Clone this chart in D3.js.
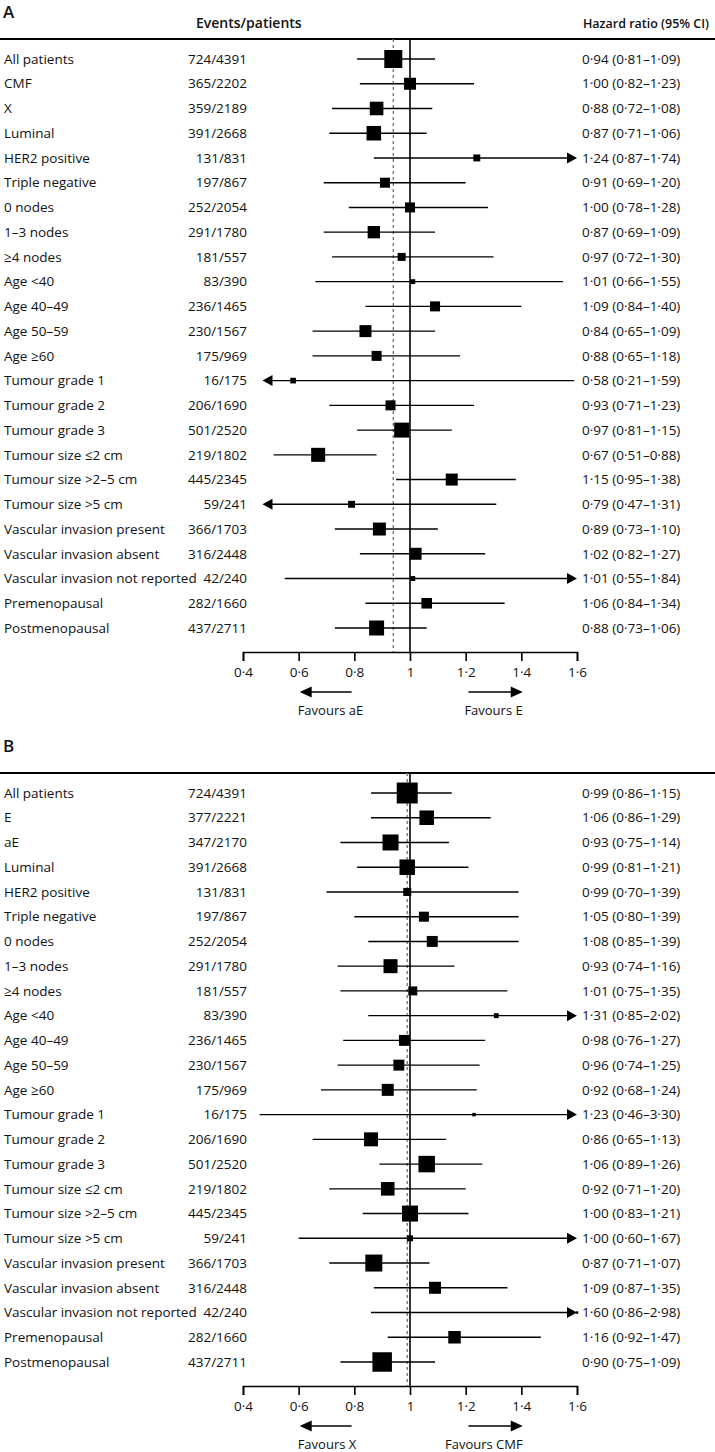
<!DOCTYPE html>
<html>
<head>
<meta charset="utf-8">
<script src="https://cdn.jsdelivr.net/npm/d3@7"></script>
<style>
  html, body { margin: 0; padding: 0; background: #fff; }
  svg { display: block; }
  text { font-family: "Open Sans", Lato, sans-serif; fill: #111; }
</style>
</head>
<body>
<svg id="chart" width="715" height="1452"></svg>
<script>
// ---------- DATA ----------
const categoriesA = ["All patients","CMF","X","Luminal","HER2 positive","Triple negative","0 nodes","1–3 nodes","≥4 nodes","Age <40","Age 40–49","Age 50–59","Age ≥60","Tumour grade 1","Tumour grade 2","Tumour grade 3","Tumour size ≤2 cm","Tumour size >2–5 cm","Tumour size >5 cm","Vascular invasion present","Vascular invasion absent","Vascular invasion not reported","Premenopausal","Postmenopausal"];
const eventsA = ["724/4391","365/2202","359/2189","391/2668","131/831","197/867","252/2054","291/1780","181/557","83/390","236/1465","230/1567","175/969","16/175","206/1690","501/2520","219/1802","445/2345","59/241","366/1703","316/2448","42/240","282/1660","437/2711"];
const hrA    = [0.94,1.00,0.88,0.87,1.24,0.91,1.00,0.87,0.97,1.01,1.09,0.84,0.88,0.58,0.93,0.97,0.67,1.15,0.79,0.89,1.02,1.01,1.06,0.88];
const lowerA = [0.81,0.82,0.72,0.71,0.87,0.69,0.78,0.69,0.72,0.66,0.84,0.65,0.65,0.21,0.71,0.81,0.51,0.95,0.47,0.73,0.82,0.55,0.84,0.73];
const upperA = [1.09,1.23,1.08,1.06,1.74,1.20,1.28,1.09,1.30,1.55,1.40,1.09,1.18,1.59,1.23,1.15,0.88,1.38,1.31,1.10,1.27,1.84,1.34,1.06];
const weightA = [81,36,46,53,12,25,25,38,16,6,25,36,25,8,25,56,49,36,12,42,36,6,28,56];
const arrowA = ["","","","","right","","","","","","","","","left","","","","","left","","","right","",""];
const overallA = 0.94;
const favoursA = ["Favours aE","Favours E"];

const categoriesB = ["All patients","E","aE","Luminal","HER2 positive","Triple negative","0 nodes","1–3 nodes","≥4 nodes","Age <40","Age 40–49","Age 50–59","Age ≥60","Tumour grade 1","Tumour grade 2","Tumour grade 3","Tumour size ≤2 cm","Tumour size >2–5 cm","Tumour size >5 cm","Vascular invasion present","Vascular invasion absent","Vascular invasion not reported","Premenopausal","Postmenopausal"];
const eventsB = ["724/4391","377/2221","347/2170","391/2668","131/831","197/867","252/2054","291/1780","181/557","83/390","236/1465","230/1567","175/969","16/175","206/1690","501/2520","219/1802","445/2345","59/241","366/1703","316/2448","42/240","282/1660","437/2711"];
const hrB    = [0.99,1.06,0.93,0.99,0.99,1.05,1.08,0.93,1.01,1.31,0.98,0.96,0.92,1.23,0.86,1.06,0.92,1.00,1.00,0.87,1.09,1.60,1.16,0.90];
const lowerB = [0.86,0.86,0.75,0.81,0.70,0.80,0.85,0.74,0.75,0.85,0.76,0.74,0.68,0.46,0.65,0.89,0.71,0.83,0.60,0.71,0.87,0.86,0.92,0.75];
const upperB = [1.15,1.29,1.14,1.21,1.39,1.39,1.39,1.16,1.35,2.02,1.27,1.25,1.24,3.30,1.13,1.26,1.20,1.21,1.67,1.07,1.35,2.98,1.47,1.09];
const weightB = [110,53,64,60,16,25,30,49,20,6,30,30,36,3,49,68,46,64,9,72,36,1.5,39,95];
const arrowB = ["","","","","","","","","","right","","","","right","","","","","right","","","right","",""];
const overallB = 0.99;
const favoursB = ["Favours X","Favours CMF"];

const tickValues = [0.4,0.6,0.8,1,1.2,1.4,1.6];
const clipLow = 0.47, clipHigh = 1.6;

// ---------- DRAW ----------
const svg = d3.select("#chart");
const W = 715;
const FS = "13.5px";
const x = d3.scaleLinear().domain([0.4, 1.6]).range([243, 577]);
const sizeScale = d3.scaleSqrt().domain([0, 100]).range([0, 20]);
const fmt = v => v.toFixed(2).replace(".", "·");
const fmtTick = v => v === 1 ? "1" : v.toFixed(1).replace(".", "·");

function arrowHead(g, xTip, y, dir, len, half) {
  const xb = xTip - dir * len;
  g.append("path")
    .attr("d", `M${xTip},${y}L${xb},${y - half}L${xb},${y + half}Z`)
    .attr("fill", "#000");
}

function panel(offsetY, letter, showHeader, cats, events, hr, lo, hi, wt, arrows, overall, favours) {
  const g = svg.append("g").attr("transform", `translate(0,${offsetY})`);
  const topY = 39, row0 = 59, axisY = 652;
  const y = d3.scalePoint().domain(d3.range(cats.length)).range([row0, 628]);

  g.append("text").attr("x", 3).attr("y", 12).attr("dy", "0.35em")
    .style("font-size", "17px").style("font-weight", 600).text(letter);
  if (showHeader) {
    g.append("text").attr("x", 196).attr("y", 23).attr("dy", "0.35em")
      .style("font-size", "14px").style("font-weight", 600).text("Events/patients");
    g.append("text").attr("x", 583).attr("y", 23).attr("dy", "0.35em")
      .attr("textLength", 126).attr("lengthAdjust", "spacingAndGlyphs")
      .style("font-size", "13px").style("font-weight", 600).text("Hazard ratio (95% CI)");
  }
  g.append("line").attr("x1", 0).attr("x2", W).attr("y1", topY).attr("y2", topY)
    .attr("stroke", "#000").attr("stroke-width", 2);

  // reference lines
  g.append("line").attr("x1", x(overall)).attr("x2", x(overall))
    .attr("y1", topY).attr("y2", axisY)
    .attr("stroke", "#5a8196").attr("stroke-width", 1.4).attr("stroke-dasharray", "3,3");
  g.append("line").attr("x1", x(1)).attr("x2", x(1))
    .attr("y1", topY).attr("y2", axisY)
    .attr("stroke", "#000").attr("stroke-width", 1.6);

  const rows = g.selectAll(".row").data(d3.range(cats.length)).join("g").attr("class", "row");
  rows.append("text").attr("x", 4).attr("y", i => y(i)).attr("dy", "0.35em")
    .style("font-size", FS).text(i => cats[i]);
  rows.append("text").attr("x", 247).attr("y", i => y(i)).attr("dy", "0.35em")
    .attr("text-anchor", "end").style("font-size", FS).text(i => events[i]);
  rows.append("text").attr("x", 582).attr("y", i => y(i)).attr("dy", "0.35em")
    .style("font-size", FS)
    .text(i => `${fmt(hr[i])} (${fmt(lo[i])}–${fmt(hi[i])})`);

  rows.each(function(i) {
    const r = d3.select(this);
    const l = arrows[i] === "left" ? Math.max(lo[i], clipLow) : lo[i];
    const h = arrows[i] === "right" ? Math.min(hi[i], clipHigh) : hi[i];
    const x1 = x(l), x2 = x(h);
    r.append("line").attr("x1", arrows[i] === "left" ? x1 + 6 : x1)
      .attr("x2", arrows[i] === "right" ? x2 - 6 : x2)
      .attr("y1", y(i)).attr("y2", y(i))
      .attr("stroke", "#000").attr("stroke-width", 1.4);
    const s = sizeScale(wt[i]);
    r.append("rect").attr("x", x(hr[i]) - s / 2).attr("y", y(i) - s / 2)
      .attr("width", s).attr("height", s).attr("fill", "#000");
    if (arrows[i] === "right") arrowHead(r, x2, y(i), 1, 10, 5.5);
    if (arrows[i] === "left") arrowHead(r, x1, y(i), -1, 10, 5.5);
  });

  // axis
  const axis = d3.axisBottom(x).tickValues(tickValues).tickFormat(fmtTick)
    .tickSize(9).tickSizeOuter(9).tickPadding(6);
  const ag = g.append("g").attr("transform", `translate(0,${axisY})`).call(axis);
  ag.select(".domain").attr("stroke", "#000").attr("stroke-width", 1.6);
  ag.selectAll(".tick line").attr("stroke", "#000").attr("stroke-width", 1.6);
  ag.selectAll(".tick text").style("font-size", FS).style("font-family", "'Open Sans', sans-serif").attr("fill", "#111");

  // favours arrows
  const ay = axisY + 40;
  const lx0 = x(0.79), lx1 = x(0.6) + 1;
  g.append("line").attr("x1", lx0).attr("x2", lx1 + 10).attr("y1", ay).attr("y2", ay)
    .attr("stroke", "#000").attr("stroke-width", 1.6);
  arrowHead(g, lx1, ay, -1, 12, 5.5);
  const rx0 = x(1.21), rx1 = x(1.405);
  g.append("line").attr("x1", rx0).attr("x2", rx1 - 10).attr("y1", ay).attr("y2", ay)
    .attr("stroke", "#000").attr("stroke-width", 1.6);
  arrowHead(g, rx1, ay, 1, 12, 5.5);

  g.append("text").attr("x", lx1 - 2).attr("y", ay + 18).attr("dy", "0.35em")
    .style("font-size", "13px").text(favours[0]);
  g.append("text").attr("x", rx1).attr("y", ay + 18).attr("dy", "0.35em")
    .attr("text-anchor", "end").style("font-size", "13px").text(favours[1]);
}

panel(0, "A", true, categoriesA, eventsA, hrA, lowerA, upperA, weightA, arrowA, overallA, favoursA);
panel(734, "B", false, categoriesB, eventsB, hrB, lowerB, upperB, weightB, arrowB, overallB, favoursB);
</script>
</body>
</html>
